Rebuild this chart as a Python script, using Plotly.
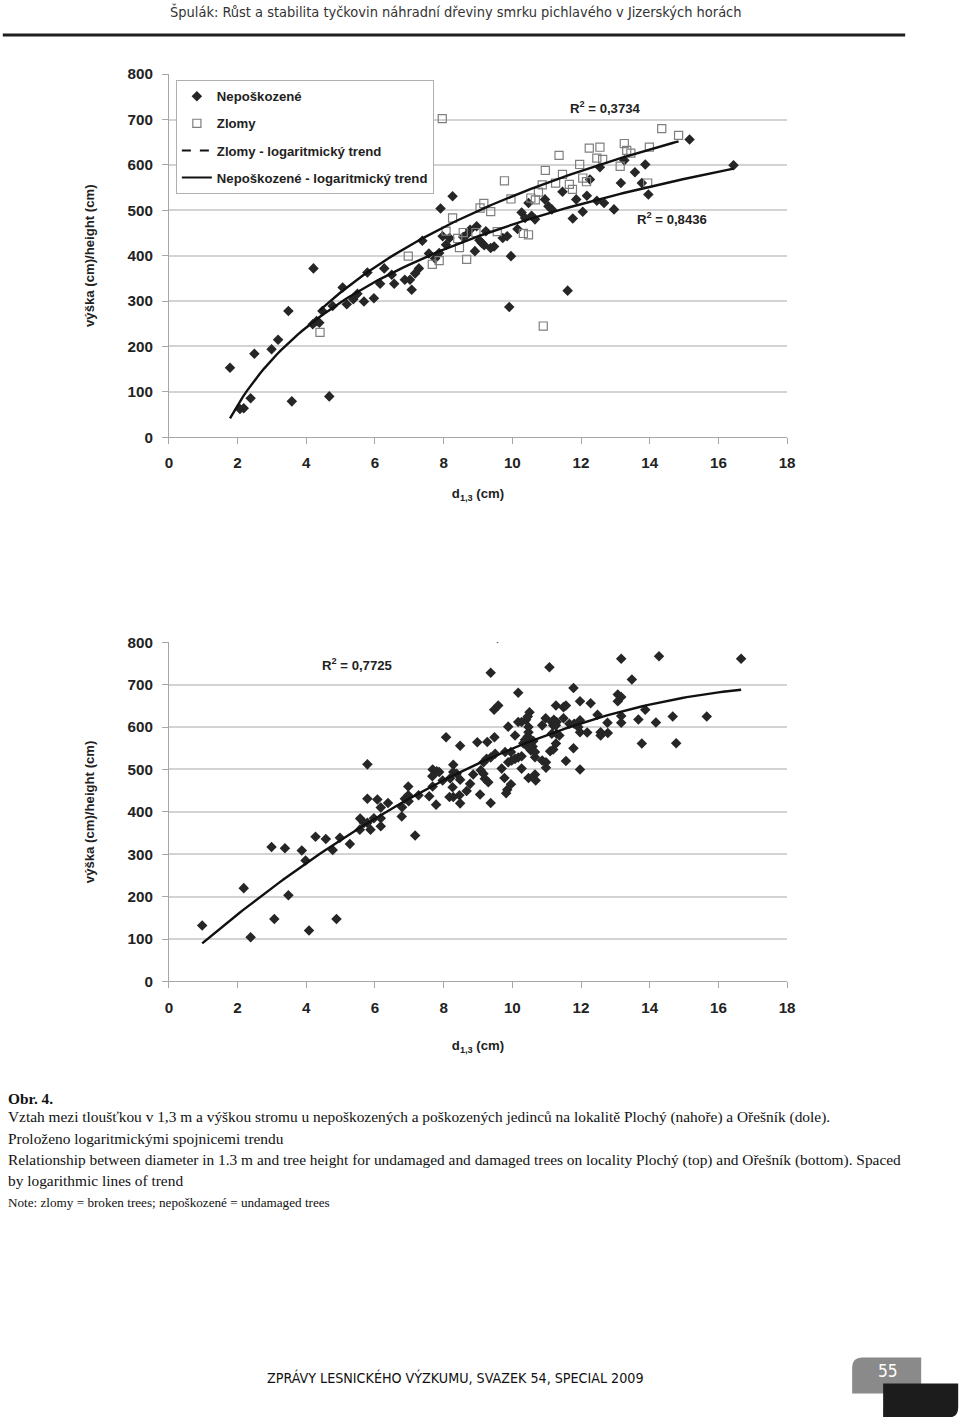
import numpy as np
import plotly.graph_objects as go

W, H = 960, 1417

# ---------------- DATA ----------------
# Top chart (Plochý) - undamaged trees (Nepoškozené)
top_undamaged_d = [1.78, 2.07, 2.18, 2.38, 2.49, 2.99, 3.18, 3.48, 3.58, 4.21, 4.19, 4.30, 4.38, 4.47,
                   4.67, 4.77, 5.06, 5.18, 5.37, 5.49, 5.68, 5.78, 5.97, 6.15, 6.27, 6.49, 6.56, 6.87,
                   7.02, 7.07, 7.17, 7.28, 7.38, 7.57, 7.75, 7.87, 7.91, 7.97, 8.07, 8.17, 8.26, 8.57,
                   8.67, 8.77, 8.91, 8.96, 9.04, 9.11, 9.18, 9.23, 9.37, 9.47, 9.72, 9.85, 9.96, 9.91,
                   10.15, 10.27, 10.37, 10.47, 10.56, 10.66, 10.95, 11.05, 11.15, 11.46, 11.61, 11.76,
                   11.86, 12.05, 12.17, 12.26, 12.46, 12.55, 12.67, 12.96, 13.16, 13.26, 13.57, 13.77,
                   13.87, 13.96, 15.16, 16.44]
top_undamaged_h = [153, 62, 64, 86, 184, 194, 215, 278, 79, 372, 249, 256, 252, 278,
                   90, 289, 330, 293, 304, 316, 299, 363, 306, 338, 372, 358, 338, 347,
                   347, 325, 361, 372, 433, 405, 394, 406, 504, 443, 424, 439, 531, 441,
                   446, 457, 410, 465, 434, 428, 423, 454, 417, 420, 439, 443, 399, 287,
                   459, 495, 483, 516, 488, 480, 524, 509, 502, 541, 323, 482,
                   524, 497, 532, 568, 521, 595, 516, 502, 560, 610, 584, 560,
                   601, 535, 656, 599]

# Top chart (Plochý) - broken trees (Zlomy)
top_broken_d = [4.40, 6.97, 7.67, 7.87, 7.96, 8.07, 8.26, 8.41, 8.46, 8.57, 8.67, 8.94, 9.06, 9.17,
                9.37, 9.56, 9.77, 9.96, 10.32, 10.47, 10.54, 10.67, 10.76, 10.87, 10.90, 10.96, 11.26,
                11.36, 11.46, 11.66, 11.75, 11.96, 12.05, 12.16, 12.24, 12.55, 12.46, 12.63, 13.14,
                13.26, 13.33, 13.45, 13.94, 13.99, 14.35, 14.84]
top_broken_h = [231, 399, 381, 389, 702, 454, 483, 438, 418, 451, 392, 451, 505, 515,
                497, 453, 565, 525, 449, 446, 527, 523, 540, 556, 245, 588, 560,
                621, 579, 557, 546, 601, 571, 563, 637, 639, 615, 612, 597,
                647, 632, 626, 560, 639, 680, 665]

# Logarithmic trend of the broken trees as drawn in the reference: h = a*ln(d) + b
top_broken_trend_a = 306.0
top_broken_trend_b = -173.5

# Bottom chart (Ořešník) - all trees
bottom_d = [0.97, 2.18, 2.38, 2.99, 3.07, 3.38, 3.48, 3.87, 3.98, 4.08, 4.27, 4.57, 4.77, 4.88,
            4.98, 5.27, 5.57, 5.56, 5.68, 5.78, 5.78, 5.78, 5.87, 5.97, 6.07, 6.17, 6.17, 6.17,
            6.38, 6.79, 6.78, 6.87, 6.98, 6.97, 6.97, 7.17, 7.27, 7.58, 7.68, 7.78, 7.97,
            7.68, 7.80, 7.87, 7.67, 8.28, 8.28, 8.38, 8.19, 8.48, 8.26, 8.46, 8.48, 8.17, 8.28,
            8.67, 8.77, 9.06, 8.86, 9.08,
            8.07, 8.48, 8.98, 9.27, 9.48, 9.16, 9.25, 9.37, 9.16, 9.20, 9.30, 9.37, 9.50, 9.69,
            9.79, 9.96,
            9.47, 9.59, 9.57, 9.37, 9.88, 10.08, 10.17, 10.27, 10.40, 10.45, 10.50, 10.47, 10.47,
            10.45, 10.37, 10.32, 10.40, 10.51, 10.61, 10.59, 10.54, 10.66, 10.66,
            9.88, 9.98, 10.08, 10.17, 10.27, 10.27, 10.47, 10.66, 10.68, 9.77, 9.85, 9.82, 9.96,
            10.17, 10.87, 10.97, 11.15, 11.21, 11.29, 11.19, 11.27, 11.15, 11.29, 11.37, 11.27,
            11.10, 11.19, 10.98, 10.98, 10.87,
            11.08, 11.27, 11.49, 11.56, 11.49, 11.66, 11.80, 11.92, 11.97, 11.97, 12.18, 11.78,
            11.56, 11.97, 11.97, 12.28, 11.78,
            12.48, 12.77, 12.57, 12.57, 12.78, 13.17, 13.17, 13.67,
            13.07, 13.17, 13.07, 13.48, 13.17, 14.27, 16.66, 13.87, 14.18, 14.67, 15.66, 13.77, 14.77]
bottom_h = [132, 220, 104, 317, 147, 314, 203, 309, 285, 120, 341, 336, 310, 147,
            339, 324, 384, 358, 374, 374, 431, 512, 358, 385, 429, 410, 385, 366,
            421, 411, 389, 431, 425, 439, 460, 344, 439, 437, 460, 417, 474,
            500, 496, 494, 484, 511, 494, 490, 479, 476, 458, 439, 420, 435, 435,
            449, 466, 441, 488, 498,
            576, 556, 564, 565, 576, 517, 525, 528, 490, 478, 470, 421, 537, 502,
            541, 541,
            641, 651, 810, 728, 601, 580, 612, 612, 617, 625, 635, 600, 588,
            578, 570, 562, 557, 561, 567, 554, 545, 541, 529,
            517, 521, 525, 528, 531, 502, 480, 488, 474, 480, 452, 444, 465,
            681, 604, 621, 612, 617, 612, 604, 604, 584, 584, 580, 561,
            543, 547, 517, 504, 521,
            741, 651, 647, 651, 621, 608, 608, 600, 588, 616, 587, 550,
            520, 500, 661, 656, 692,
            629, 610, 588, 580, 586, 626, 610, 618,
            677, 671, 661, 712, 761, 767, 761, 641, 611, 625, 625, 561, 562]

x_ticks = [0, 2, 4, 6, 8, 10, 12, 14, 16, 18]
y_ticks = [0, 100, 200, 300, 400, 500, 600, 700, 800]

r2_top_broken = "0,3734"
r2_top_undamaged = "0,8436"
r2_bottom = "0,7725"

legend_names = ["Nepoškozené", "Zlomy", "Zlomy - logaritmický trend", "Nepoškozené - logaritmický trend"]

header_text = "Špulák: Růst a stabilita tyčkovin náhradní dřeviny smrku pichlavého v Jizerských horách"
caption_title = "Obr. 4."
caption_lines = [
    "Vztah mezi tloušťkou v 1,3 m a výškou stromu u nepoškozených a poškozených jedinců na lokalitě Plochý (nahoře) a Ořešník (dole).",
    "Proloženo logaritmickými spojnicemi trendu",
    "Relationship between diameter in 1.3 m and tree height for undamaged and damaged trees on locality Plochý (top) and Ořešník (bottom). Spaced",
    "by logarithmic lines of trend",
]
caption_note = "Note: zlomy = broken trees; nepoškozené = undamaged trees"
footer_text = "ZPRÁVY LESNICKÉHO VÝZKUMU, SVAZEK 54, SPECIAL 2009"
page_number = "55"

# ---------------- page geometry ----------------
# the photographed page comes out slightly shrunk and shifted; pre-compensate
SX, OX = 0.9871, 4.2
SY, OY = 0.9877, 8.9
K = 1 / ((SX + SY) / 2)  # size compensation for fonts / lengths


def px(x):
    return ((x - OX) / SX) / W


def py(y):
    return 1 - ((y - OY) / SY) / H


def fs(s):
    return round(s * K, 2)


def log_trend(x, y, n=120):
    x = np.asarray(x, float)
    y = np.asarray(y, float)
    a, b = np.polyfit(np.log(x), y, 1)
    xs = np.linspace(x.min(), x.max(), n)
    return xs, a * np.log(xs) + b


def log_curve(x, a, b, n=120):
    x = np.asarray(x, float)
    xs = np.linspace(x.min(), x.max(), n)
    return xs, a * np.log(xs) + b


def poly_trend(x, y, n=120):
    x = np.asarray(x, float)
    y = np.asarray(y, float)
    c = np.polyfit(x, y, 2)
    xs = np.linspace(x.min(), x.max(), n)
    return xs, np.polyval(c, xs)


DIAMOND = "#262626"
SQUARE = "#7f7f7f"
LINE = "#111111"
AXFONT = "Liberation Sans, Arial, sans-serif"

fig = go.Figure()

# top chart traces
fig.add_trace(go.Scatter(x=top_undamaged_d, y=top_undamaged_h, mode="markers", name=legend_names[0],
                         legendgroup="g1",
                         marker=dict(symbol="diamond", size=fs(8), color=DIAMOND), xaxis="x", yaxis="y"))
fig.add_trace(go.Scatter(x=top_broken_d, y=top_broken_h, mode="markers", name=legend_names[1],
                         legendgroup="g2",
                         marker=dict(symbol="square-open", size=fs(8), color=SQUARE,
                                     line=dict(width=1.2, color=SQUARE)),
                         xaxis="x", yaxis="y"))
# legend-only entries (the legend shows a dashed sample for the broken-tree trend)
fig.add_trace(go.Scatter(x=[None], y=[None], mode="lines", name=legend_names[2], legendgroup="g3",
                         line=dict(color=LINE, width=2, dash="dash"), xaxis="x", yaxis="y"))
fig.add_trace(go.Scatter(x=[None], y=[None], mode="lines", name=legend_names[3], legendgroup="g4",
                         line=dict(color=LINE, width=2), xaxis="x", yaxis="y"))

xs, ys = log_curve(top_broken_d, top_broken_trend_a, top_broken_trend_b)
fig.add_trace(go.Scatter(x=xs, y=ys, mode="lines", showlegend=False, hoverinfo="skip",
                         line=dict(color=LINE, width=2.4), xaxis="x", yaxis="y"))
xs, ys = log_trend(top_undamaged_d, top_undamaged_h)
fig.add_trace(go.Scatter(x=xs, y=ys, mode="lines", showlegend=False, hoverinfo="skip",
                         line=dict(color=LINE, width=2.4), xaxis="x", yaxis="y"))

# bottom chart traces
fig.add_trace(go.Scatter(x=bottom_d, y=bottom_h, mode="markers", showlegend=False,
                         marker=dict(symbol="diamond", size=fs(8), color=DIAMOND), xaxis="x2", yaxis="y2"))
xs, ys = poly_trend(bottom_d, bottom_h)
fig.add_trace(go.Scatter(x=xs, y=ys, mode="lines", showlegend=False, hoverinfo="skip",
                         line=dict(color=LINE, width=2.4), xaxis="x2", yaxis="y2"))

tickfont = dict(family=AXFONT, size=fs(15), color="#222222", weight="bold")
titlefont = dict(family=AXFONT, size=fs(13), color="#222222", weight="bold")

xdom = [px(169), px(787)]
common_x = dict(range=[0, 18], tickvals=x_ticks, showgrid=False, zeroline=False, showline=True,
                linecolor="#a6a6a6", linewidth=1, ticks="outside", ticklen=6, tickcolor="#a6a6a6",
                tickfont=tickfont, ticklabelstandoff=6, fixedrange=True)
common_y = dict(range=[0, 800], tickvals=y_ticks, showgrid=True, gridcolor="#d3d3d3", gridwidth=1.5,
                zeroline=False, showline=True, linecolor="#a6a6a6", linewidth=1, ticks="outside",
                ticklen=6, tickcolor="#a6a6a6", tickfont=tickfont, ticklabelstandoff=6, fixedrange=True)

fig.update_layout(
    width=W, height=H, margin=dict(l=0, r=0, t=0, b=0),
    paper_bgcolor="white", plot_bgcolor="white",
    xaxis=dict(domain=xdom, anchor="y",
               title=dict(text="d<sub>1,3</sub> (cm)", font=titlefont, standoff=18), **common_x),
    yaxis=dict(domain=[py(437), py(74)], anchor="x",
               title=dict(text="výška (cm)/height (cm)", font=titlefont, standoff=29), **common_y),
    xaxis2=dict(domain=xdom, anchor="y2",
                title=dict(text="d<sub>1,3</sub> (cm)", font=titlefont, standoff=26), **common_x),
    yaxis2=dict(domain=[py(981), py(642)], anchor="x2",
                title=dict(text="výška (cm)/height (cm)", font=titlefont, standoff=29), **common_y),
    showlegend=True,
    legend=dict(x=px(176), y=py(80), xanchor="left", yanchor="top", bgcolor="white",
                bordercolor="#b0b0b0", borderwidth=1, tracegroupgap=7,
                font=dict(family=AXFONT, size=fs(13), color="#222222", weight="bold")),
)

annotations = []
r2font = dict(family=AXFONT, size=fs(13), color="#222222", weight="bold")
annotations.append(dict(text="R<sup>2</sup> = " + r2_top_broken, x=12.70, y=727, xref="x", yref="y",
                        showarrow=False, font=r2font))
annotations.append(dict(text="R<sup>2</sup> = " + r2_top_undamaged, x=14.65, y=482, xref="x", yref="y",
                        showarrow=False, font=r2font))
annotations.append(dict(text="R<sup>2</sup> = " + r2_bottom, x=5.48, y=748, xref="x2", yref="y2",
                        showarrow=False, font=r2font))

# page header
annotations.append(dict(text=header_text, x=px(456), y=py(11), xref="paper", yref="paper",
                        showarrow=False, xanchor="center", yanchor="middle",
                        font=dict(family="DejaVu Sans Condensed, DejaVu Sans", size=fs(14.3), color="#333333")))

# caption
serif = "Liberation Serif, Times New Roman, serif"
annotations.append(dict(text="<b>" + caption_title + "</b>", x=px(6), y=py(1098), xref="paper", yref="paper",
                        showarrow=False, xanchor="left", yanchor="middle",
                        font=dict(family=serif, size=fs(15.2), color="#111111")))
for line, yy in zip(caption_lines, [1117, 1138, 1160, 1180]):
    annotations.append(dict(text=line, x=px(6), y=py(yy), xref="paper", yref="paper",
                            showarrow=False, xanchor="left", yanchor="middle",
                            font=dict(family=serif, size=fs(15.2), color="#111111")))
annotations.append(dict(text=caption_note, x=px(6), y=py(1202), xref="paper", yref="paper",
                        showarrow=False, xanchor="left", yanchor="middle",
                        font=dict(family=serif, size=fs(13), color="#111111")))

# footer
annotations.append(dict(text=footer_text, x=px(456), y=py(1377), xref="paper", yref="paper",
                        showarrow=False, xanchor="center", yanchor="middle",
                        font=dict(family="DejaVu Sans Condensed, DejaVu Sans", size=fs(14), color="#111111")))
annotations.append(dict(text=page_number, x=px(888), y=py(1370), xref="paper", yref="paper",
                        showarrow=False, xanchor="center", yanchor="middle",
                        font=dict(family="DejaVu Sans Condensed, DejaVu Sans", size=fs(17), color="white")))

shapes = []
# header rule
shapes.append(dict(type="line", xref="paper", yref="paper", x0=px(3), x1=px(905), y0=py(35), y1=py(35),
                   line=dict(color="#1e1e1e", width=3)))


def rounded_path(x0, y0, x1, y1, r, corner):
    if corner == "tl":
        return (f"M {px(x0)},{py(y0 + r)} Q {px(x0)},{py(y0)} {px(x0 + r)},{py(y0)} L {px(x1)},{py(y0)} "
                f"L {px(x1)},{py(y1)} L {px(x0)},{py(y1)} Z")
    return (f"M {px(x0)},{py(y0)} L {px(x1)},{py(y0)} L {px(x1)},{py(y1 - r)} "
            f"Q {px(x1)},{py(y1)} {px(x1 - r)},{py(y1)} L {px(x0)},{py(y1)} Z")


shapes.append(dict(type="path", xref="paper", yref="paper", path=rounded_path(852, 1357, 921, 1393, 10, "tl"),
                   fillcolor="#8a8a8a", line=dict(width=0), layer="below"))
shapes.append(dict(type="path", xref="paper", yref="paper", path=rounded_path(883, 1383, 958, 1417, 10, "br"),
                   fillcolor="#1c1c1c", line=dict(width=0), layer="below"))

fig.update_layout(annotations=annotations, shapes=shapes)

post = (
    "document.documentElement.style.margin='0';document.documentElement.style.padding='0';"
    "document.body.style.margin='0';document.body.style.padding='0';"
)

fig.write_html("out.html", post_script=post, config={"displayModeBar": False})
